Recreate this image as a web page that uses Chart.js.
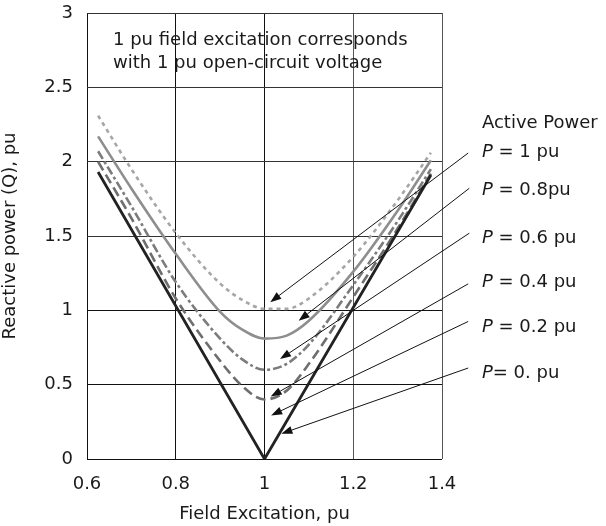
<!DOCTYPE html>
<html><head><meta charset="utf-8">
<script src="https://cdn.jsdelivr.net/npm/chart.js@4/dist/chart.umd.min.js"></script>
<style>html,body{margin:0;padding:0;background:#fff;}#wrap{width:606px;height:526px;}</style>
</head><body><div id="wrap"><canvas id="c" width="606" height="526"></canvas></div>
<script>
// ---- data ----
const excitation = [0.625, 0.7, 0.8, 0.9, 0.95, 1.0, 1.05, 1.1, 1.2, 1.3, 1.375];
const qP100 = [2.31, 1.95, 1.52, 1.18, 1.07, 1.01, 1.01, 1.08, 1.36, 1.74, 2.06];
const qP080 = [2.17, 1.82, 1.38, 0.99, 0.87, 0.81, 0.83, 0.93, 1.26, 1.67, 2.01];
const qP060 = [2.07, 1.70, 1.19, 0.81, 0.67, 0.60, 0.64, 0.77, 1.17, 1.60, 1.95];
const qP040 = [2.00, 1.62, 1.08, 0.66, 0.49, 0.40, 0.46, 0.64, 1.09, 1.55, 1.92];
const excitationP0 = [0.625, 1.0, 1.375];
const qP000 = [1.93, 0.0, 1.91];

const xTicks = [0.6, 0.8, 1, 1.2, 1.4];
const yTicks = [0, 0.5, 1, 1.5, 2, 2.5, 3];

const noteLines = ['1 pu field excitation corresponds', 'with 1 pu open-circuit voltage'];
const noteAnchor = [0.6586, 2.788, 2.633]; // x, y line1, y line2 (data units)

const legendTitle = 'Active Power';
const legendTitleAt = [1.49, 2.224];
const labelItalic = ['P', 'P', 'P', 'P', 'P', 'P'];
const labelRest = [' = 1 pu', ' = 0.8pu', ' = 0.6 pu', ' = 0.4 pu', ' = 0.2 pu', '= 0. pu'];
const labelX = 1.49;
const labelY = [2.034, 1.776, 1.454, 1.156, 0.851, 0.544];
// arrows: tail (x,y) -> tip (x,y), data units
const arrowTailX = [1.459, 1.4615, 1.4615, 1.459, 1.459, 1.459];
const arrowTailY = [2.058, 1.821, 1.519, 1.178, 0.925, 0.612];
const arrowTipX = [1.013, 1.077, 1.035, 1.014, 1.015, 1.038];
const arrowTipY = [1.055, 0.93, 0.672, 0.42, 0.293, 0.17];

const FONT = '"DejaVu Sans", sans-serif';
const TXT = '#1a1a1a';

function pts(xs, ys) { return xs.map((x, i) => ({x: x, y: ys[i]})); }

const annotations = {
  id: 'annotations',
  afterDraw(chart) {
    const {ctx, scales: {x, y}} = chart;
    ctx.save();
    ctx.fillStyle = TXT;
    ctx.textBaseline = 'alphabetic';
    ctx.textAlign = 'left';
    ctx.font = '18px ' + FONT;
    ctx.fillText(noteLines[0], x.getPixelForValue(noteAnchor[0]), y.getPixelForValue(noteAnchor[1]));
    ctx.fillText(noteLines[1], x.getPixelForValue(noteAnchor[0]), y.getPixelForValue(noteAnchor[2]));
    ctx.fillText(legendTitle, x.getPixelForValue(legendTitleAt[0]), y.getPixelForValue(legendTitleAt[1]));
    for (let i = 0; i < labelRest.length; i++) {
      const px = x.getPixelForValue(labelX), py = y.getPixelForValue(labelY[i]);
      ctx.font = 'italic 18px ' + FONT;
      ctx.fillText(labelItalic[i], px, py);
      const w = ctx.measureText(labelItalic[i]).width;
      ctx.font = '18px ' + FONT;
      ctx.fillText(labelRest[i], px + w, py);
    }
    ctx.strokeStyle = '#111';
    ctx.lineWidth = 1;
    for (let i = 0; i < arrowTailX.length; i++) {
      const x0 = x.getPixelForValue(arrowTailX[i]), y0 = y.getPixelForValue(arrowTailY[i]);
      const x1 = x.getPixelForValue(arrowTipX[i]), y1 = y.getPixelForValue(arrowTipY[i]);
      const a = Math.atan2(y1 - y0, x1 - x0);
      const L = 11, H = 4;
      const bx = x1 - L * Math.cos(a), by = y1 - L * Math.sin(a);
      ctx.beginPath(); ctx.moveTo(x0, y0); ctx.lineTo(bx, by); ctx.stroke();
      ctx.beginPath();
      ctx.moveTo(x1, y1);
      ctx.lineTo(bx + H * Math.sin(a), by - H * Math.cos(a));
      ctx.lineTo(bx - H * Math.sin(a), by + H * Math.cos(a));
      ctx.closePath(); ctx.fillStyle = '#111'; ctx.fill();
    }
    ctx.restore();
  }
};

const xGridColor = v => (Math.abs(v - 1.2) < 1e-6 || Math.abs(v - 1.4) < 1e-6) ? '#555' : '#111';
const yGridColor = v => (v >= 1.5 - 1e-6) ? '#333' : '#111';

new Chart(document.getElementById('c'), {
  type: 'line',
  data: {
    datasets: [
      {label: 'P = 0', data: pts(excitationP0, qP000), borderColor: '#222', borderWidth: 2.8, tension: 0, pointRadius: 0},
      {label: 'P = 0.4', data: pts(excitation, qP040), borderColor: '#6e6e6e', borderWidth: 2.6, borderDash: [10, 5], cubicInterpolationMode: 'monotone', pointRadius: 0},
      {label: 'P = 0.6', data: pts(excitation, qP060), borderColor: '#7c7c7c', borderWidth: 2.6, borderDash: [9, 3, 3, 3], cubicInterpolationMode: 'monotone', pointRadius: 0},
      {label: 'P = 0.8', data: pts(excitation, qP080), borderColor: '#8e8e8e', borderWidth: 2.6, cubicInterpolationMode: 'monotone', pointRadius: 0},
      {label: 'P = 1', data: pts(excitation, qP100), borderColor: '#a6a6a6', borderWidth: 2.6, borderDash: [4, 4], cubicInterpolationMode: 'monotone', pointRadius: 0}
    ]
  },
  options: {
    responsive: false,
    animation: false,
    devicePixelRatio: 1,
    layout: {padding: {left: 0, right: 164, top: 13, bottom: 0}},
    plugins: {legend: {display: false}, tooltip: {enabled: false}},
    scales: {
      x: {
        type: 'linear', min: 0.6, max: 1.4,
        afterBuildTicks: s => { s.ticks = xTicks.map(v => ({value: v})); },
        afterFit: s => { s.height = 67; },
        ticks: {color: TXT, font: {family: FONT, size: 18}, padding: 15, autoSkip: false, maxRotation: 0, callback: v => String(v)},
        grid: {drawTicks: false, color: c => xGridColor(c.tick.value), lineWidth: 1},
        border: {display: false},
        title: {display: true, text: 'Field Excitation, pu', color: TXT, font: {family: FONT, size: 18}, padding: {top: 0, bottom: 1}}
      },
      y: {
        type: 'linear', min: 0, max: 3,
        afterBuildTicks: s => { s.ticks = yTicks.map(v => ({value: v})); },
        afterFit: s => { s.width = 87; s.paddingTop = 0; s.paddingBottom = 0; },
        ticks: {color: TXT, font: {family: FONT, size: 18, lineHeight: 0.6}, padding: 14, callback: v => String(v)},
        grid: {drawTicks: false, color: c => yGridColor(c.tick.value), lineWidth: 1},
        border: {display: false},
        title: {display: true, text: 'Reactive power (Q), pu', color: TXT, font: {family: FONT, size: 18}, padding: {top: 0, bottom: 0}}
      }
    }
  },
  plugins: [annotations]
});
</script>
</body></html>
